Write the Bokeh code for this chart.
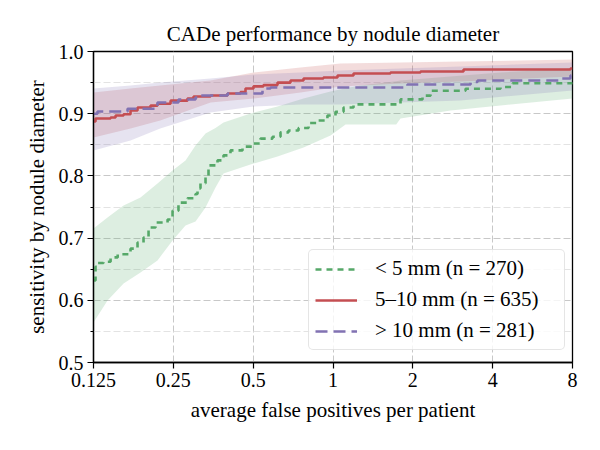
from bokeh.plotting import figure
from bokeh.models import (FixedTicker, Range1d, Legend, LegendItem,
                          CustomJSTickFormatter)
from bokeh.embed import file_html
from bokeh.resources import INLINE

# ---- FROC operating points (average FPs per patient, sensitivity) ----
fp_small = [0.125, 0.1272, 0.1294, 0.1363, 0.1450, 0.1542, 0.1724, 0.1832,
            0.1930, 0.2016, 0.2142, 0.2378, 0.2483, 0.2614, 0.2827, 0.3031,
            0.3084, 0.3165, 0.3306, 0.3393, 0.3669, 0.3865, 0.4106, 0.4558,
            0.4971, 0.5328, 0.5915, 0.6340, 0.6796, 0.7413, 0.8086, 0.8813,
            0.9528, 1.022, 1.096, 1.195, 1.797, 2.175, 2.332, 3.161, 4.281,
            4.753, 8.0]
sens_small = [0.632, 0.654, 0.660, 0.662, 0.669, 0.674, 0.683, 0.693,
              0.701, 0.717, 0.725, 0.730, 0.744, 0.757, 0.764, 0.771,
              0.780, 0.788, 0.800, 0.817, 0.825, 0.833, 0.841, 0.847,
              0.852, 0.860, 0.863, 0.870, 0.873, 0.877, 0.885, 0.889,
              0.897, 0.903, 0.910, 0.915, 0.923, 0.929, 0.937, 0.940, 0.943,
              0.949, 0.950]

fp_mid = [0.125, 0.1272, 0.1450, 0.1514, 0.1623, 0.1724, 0.1832, 0.2051,
          0.2179, 0.2441, 0.2827, 0.2979, 0.3453, 0.4002, 0.4479, 0.4678,
          0.5014, 0.5469, 0.6178, 0.6915, 0.7742, 0.9203, 1.040, 1.195,
          1.647, 2.138, 3.106, 7.86, 8.0]
sens_mid = [0.8875, 0.8923, 0.8939, 0.8971, 0.899, 0.9052, 0.910, 0.913,
            0.916, 0.921, 0.9245, 0.9277, 0.9293, 0.9325, 0.935, 0.9405,
            0.944, 0.946, 0.950, 0.9534, 0.9566, 0.9582, 0.9614, 0.9646,
            0.9662, 0.9679, 0.9711, 0.9727, 0.9727]

fp_large = [0.125, 0.1294, 0.1680, 0.2179, 0.2614, 0.3031, 0.3165, 0.4002,
            0.5422, 0.5813, 1.909, 3.302, 3.507, 7.21, 7.86, 8.0]
sens_large = [0.900, 0.9036, 0.908, 0.918, 0.9229, 0.9261, 0.9293, 0.9325,
              0.9405, 0.9421, 0.9470, 0.951, 0.9534, 0.9566, 0.9614, 0.9614]

# ---- bootstrap confidence bands ----
band_fp_small = [0.125, 0.1412, 0.1623, 0.1880, 0.2179, 0.2483, 0.2779,
                 0.3031, 0.3306, 0.3606, 0.3865, 0.4885, 0.6178, 0.7742,
                 0.9785, 1.115, 1.270, 1.731, 1.797, 2.773, 4.281, 8.0]
band_hi_small = [0.7155, 0.7332, 0.7525, 0.7653, 0.7878, 0.8087, 0.8248,
                 0.8489, 0.8682, 0.877, 0.8859, 0.9004, 0.9116, 0.9245,
                 0.9357, 0.941, 0.9454, 0.952, 0.9534, 0.9598, 0.9662, 0.9727]
band_lo_small = [0.5644, 0.5998, 0.6271, 0.6448, 0.6641, 0.6962, 0.7203,
                 0.7268, 0.7493, 0.7814, 0.8039, 0.8184, 0.8312, 0.8457,
                 0.8650, 0.8827, 0.8827, 0.8827, 0.8923, 0.9052, 0.9132, 0.9245]

band_fp = [0.125, 0.1724, 0.2231, 0.3453, 0.5014, 0.7543, 1.067, 1.797,
           3.026, 8.0]
band_hi_mid = [0.9341, 0.9405, 0.9454, 0.9534, 0.9662, 0.9743, 0.9807,
               0.9823, 0.9839, 0.9871]
band_lo_mid = [0.8618, 0.8762, 0.8891, 0.9180, 0.9245, 0.9341, 0.9437,
               0.9486, 0.9518, 0.9598]
band_hi_large = [0.9405, 0.9454, 0.9502, 0.9566, 0.9630, 0.9662, 0.9695,
                 0.9727, 0.9759, 0.9823]
band_lo_large = [0.8409, 0.8570, 0.8762, 0.9020, 0.9116, 0.9148, 0.9148,
                 0.9180, 0.9212, 0.9373]

x_ticks = [0.125, 0.25, 0.5, 1, 2, 4, 8]
y_ticks = [0.5, 0.6, 0.7, 0.8, 0.9, 1.0]
y_minor = [0.55, 0.65, 0.75, 0.85, 0.95]

labels = ["< 5 mm (n = 270)", "5\u201310 mm (n = 635)", "> 10 mm (n = 281)"]
colors = ["#55a868", "#c44e52", "#8172b2"]

FONT = "Liberation Serif"
FS = "21px"
FS_TICK = "20px"

p = figure(width=600, height=450, x_axis_type="log",
           x_range=Range1d(0.125, 8), y_range=Range1d(0.5, 1.0),
           output_backend="svg", toolbar_location=None,
           min_border_left=93, min_border_right=28,
           min_border_top=51, min_border_bottom=88,
           title="CADe performance by nodule diameter")

p.background_fill_color = "white"
p.border_fill_color = "white"
p.outline_line_color = "black"
p.outline_line_width = 1.3

p.title.text_font = FONT
p.title.text_font_size = FS
p.title.text_font_style = "normal"
p.title.align = "center"
p.title.text_color = "black"
p.title.standoff = 12

# axes
p.xaxis.ticker = FixedTicker(ticks=x_ticks)
p.xaxis.formatter = CustomJSTickFormatter(code="return tick.toString();")
p.yaxis.ticker = FixedTicker(ticks=y_ticks, minor_ticks=y_minor)
p.yaxis.formatter = CustomJSTickFormatter(code="return tick.toFixed(1);")
p.xaxis.axis_label = "average false positives per patient"
p.yaxis.axis_label = "sensitivity by nodule diameter"
for ax in (p.xaxis, p.yaxis):
    ax.axis_label_text_font = FONT
    ax.axis_label_text_font_size = FS
    ax.axis_label_text_font_style = "normal"
    ax.axis_label_text_color = "black"
    ax.major_label_text_font = FONT
    ax.major_label_text_font_size = FS_TICK
    ax.major_label_text_color = "black"
    ax.axis_line_color = "black"
    ax.axis_line_width = 1.3
    ax.major_tick_line_color = "black"
    ax.major_tick_line_width = 1.2
    ax.major_tick_in = 0
    ax.major_tick_out = 6
    ax.minor_tick_in = 0
    ax.minor_tick_out = 3
    ax.minor_tick_line_color = "black"
    ax.major_label_standoff = 4
p.xaxis.minor_tick_line_color = None
p.xaxis.axis_label_standoff = 8
p.yaxis.axis_label_standoff = 7

# grid
p.xgrid.grid_line_color = "#c8c8c8"
p.xgrid.grid_line_dash = "7 3"
p.xgrid.grid_line_width = 1
p.ygrid.grid_line_color = "#c8c8c8"
p.ygrid.grid_line_dash = "7 3"
p.ygrid.grid_line_width = 1
p.ygrid.minor_grid_line_color = "#e3e3e3"
p.ygrid.minor_grid_line_dash = "7 3"
p.ygrid.minor_grid_line_width = 1

# confidence bands
p.varea(x=band_fp_small, y1=band_lo_small, y2=band_hi_small,
        fill_color=colors[0], fill_alpha=0.2)
p.varea(x=band_fp, y1=band_lo_mid, y2=band_hi_mid,
        fill_color=colors[1], fill_alpha=0.2)
p.varea(x=band_fp, y1=band_lo_large, y2=band_hi_large,
        fill_color=colors[2], fill_alpha=0.2)

# FROC step curves
r_small = p.step(fp_small, sens_small, mode="after", line_color=colors[0],
                 line_width=2.6, line_dash="6 5")
r_mid = p.step(fp_mid, sens_mid, mode="after", line_color=colors[1],
               line_width=2.6)
r_large = p.step(fp_large, sens_large, mode="after", line_color=colors[2],
                 line_width=2.6, line_dash="12 6")

legend = Legend(items=[LegendItem(label=labels[0], renderers=[r_small]),
                       LegendItem(label=labels[1], renderers=[r_mid]),
                       LegendItem(label=labels[2], renderers=[r_large])],
                location=(215, 12))
legend.label_text_font = FONT
legend.label_text_font_size = FS
legend.label_text_color = "black"
legend.glyph_width = 42
legend.glyph_height = 20
legend.label_height = 20
legend.label_standoff = 18
legend.label_width = 183
legend.spacing = 6
legend.padding = 6
legend.margin = 0
legend.border_line_color = "#cccccc"
legend.border_line_width = 1
legend.background_fill_color = "white"
legend.background_fill_alpha = 0.8
try:
    legend.border_radius = 5
except Exception:
    pass
p.add_layout(legend)

open("out.html", "w").write(file_html(p, INLINE))
